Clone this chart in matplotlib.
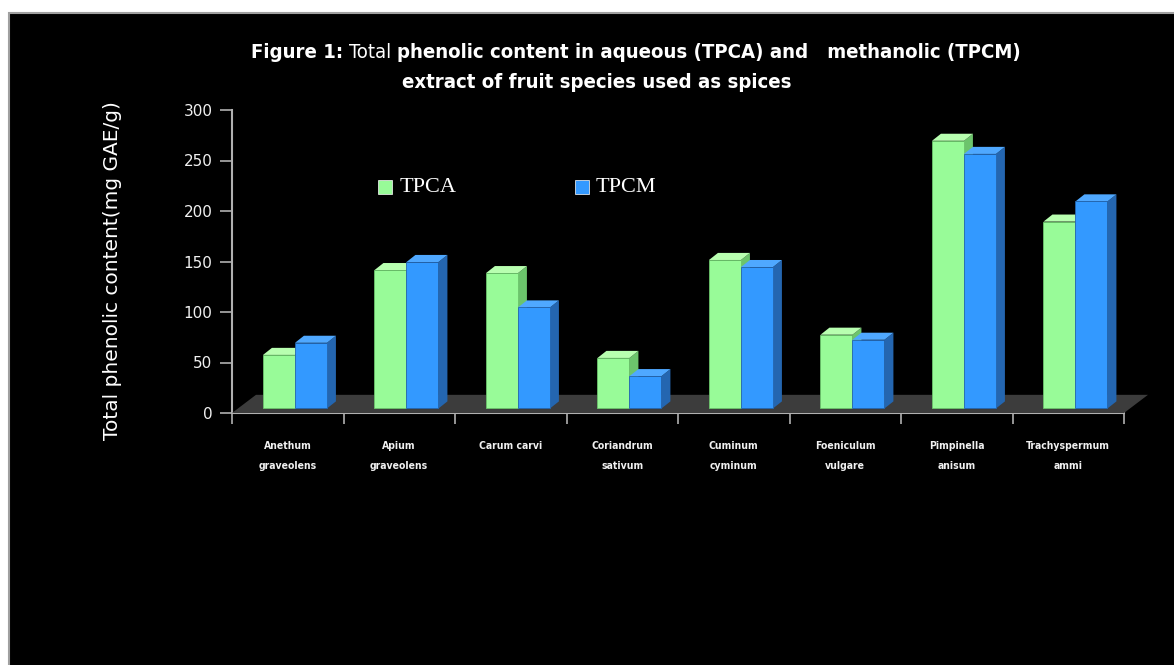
import matplotlib.pyplot as plt
from matplotlib.patches import Polygon, Rectangle
import numpy as np

species = ['Anethum\ngraveolens', 'Apium\ngraveolens', 'Carum carvi', 'Coriandrum\nsativum',
           'Cuminum\ncyminum', 'Foeniculum\nvulgare', 'Pimpinella\nanisum', 'Trachyspermum\nammi']
tpca = [53, 137, 134, 50, 147, 73, 265, 185]
tpcm = [65, 145, 100, 32, 140, 68, 252, 205]
yticks = [0, 50, 100, 150, 200, 250, 300]

W, H = 1174, 665
fig = plt.figure(figsize=(W / 100, H / 100), dpi=100)
fig.patch.set_facecolor('white')
fig.add_artist(Rectangle((9 / W, -0.01), 1, (H - 13) / H + 0.01, transform=fig.transFigure,
                         facecolor='black', edgecolor='#a0a0a0', lw=1.5, zorder=0))

ax = fig.add_axes([232 / W, (H - 413) / H, 892 / W, 303 / H])
ax.patch.set_alpha(0)
ax.set_xlim(0, 8)
ax.set_ylim(0, 300)
for s in ['top', 'right']:
    ax.spines[s].set_visible(False)
for s in ['left', 'bottom']:
    ax.spines[s].set_color('#b0b0b0')
    ax.spines[s].set_linewidth(1.5)
    ax.spines[s].set_zorder(1)

ax.set_yticks(yticks)
ax.tick_params(axis='y', direction='out', length=9, width=1.2, color='#b0b0b0',
               labelcolor='#f0f0f0', labelsize=11, pad=5)
ax.set_xticks(np.arange(9))
ax.set_xticklabels([])
ax.tick_params(axis='x', which='major', direction='out', length=8, width=1.2, color='#b0b0b0')
ax.set_xticks(np.arange(8) + 0.5, minor=True)
ax.set_xticklabels(species, minor=True, fontsize=7.5, fontweight='bold', color='#f0f0f0',
                   linespacing=2.3, va='top', fontstretch='condensed')
ax.tick_params(axis='x', which='minor', length=0, pad=20)

ax.set_ylabel('Total phenolic content(mg GAE/g)', color='white', fontsize=14.5, labelpad=44)
ax.yaxis.label.set_y(0.47)

# floor
fdx, fdy = 0.215, 18
ax.add_patch(Polygon([(0, 0), (8, 0), (8 + fdx, fdy), (fdx, fdy)], closed=True,
                     facecolor='#3c3c3c', edgecolor='none', zorder=1.5, clip_on=False))

b0 = 4.5
bw = 0.287
ddx, ddy = 0.08, 7
series = [(tpca, 0.278, '#98fb98', '#6cc46c', '#b8ffb0', 2.5),
          (tpcm, 0.565, '#3399ff', '#2466b0', '#4fa8ff', 3.5)]
x = np.arange(8)
for vals, off, front, side, top, z in series:
    ax.bar(x + off, vals, width=bw, bottom=b0, align='edge', color=front,
           edgecolor=side, lw=0.6, zorder=z + 0.5, clip_on=False)
    for xi, v in zip(x + off, vals):
        t = b0 + v
        ax.add_patch(Polygon([(xi + bw, b0), (xi + bw + ddx, b0 + ddy), (xi + bw + ddx, t + ddy), (xi + bw, t)],
                             closed=True, facecolor=side, edgecolor='none', zorder=z, clip_on=False))
        ax.add_patch(Polygon([(xi, t), (xi + bw, t), (xi + bw + ddx, t + ddy), (xi + ddx, t + ddy)],
                             closed=True, facecolor=top, edgecolor='none', zorder=z, clip_on=False))

# legend
for lx, tx, col, lab in [(378, 400, '#98fb98', 'TPCA'), (575, 596, '#3399ff', 'TPCM')]:
    fig.add_artist(Rectangle((lx / W, (H - 194) / H), 14 / W, 14 / H, transform=fig.transFigure,
                             facecolor=col, edgecolor='white', lw=0.5))
    fig.text(tx / W, (H - 188) / H, lab, color='white', fontsize=16, family='Liberation Serif',
             va='center', ha='left')

# title with mixed weights
renderer = fig.canvas.get_renderer()


def rich_line(parts, xc, y, size):
    objs = [fig.text(0, y / H, p, fontsize=size, fontweight=w, color='white', family='DejaVu Sans',
                     fontstretch='condensed', va='center', ha='left') for p, w in parts]
    widths = [o.get_window_extent(renderer).width for o in objs]
    xs = xc - sum(widths) / 2
    for o, w in zip(objs, widths):
        o.set_x(xs / W)
        xs += w


rich_line([('Figure 1: ', 'bold'), ('Total ', 'normal'),
           ('phenolic content in aqueous (TPCA) and   methanolic (TPCM)', 'bold')], 636, H - 52, 14.6)
rich_line([('extract of fruit species used as spices', 'bold')], 597, H - 82, 14.6)

fig.savefig('out.png', dpi=100, facecolor=fig.get_facecolor())
